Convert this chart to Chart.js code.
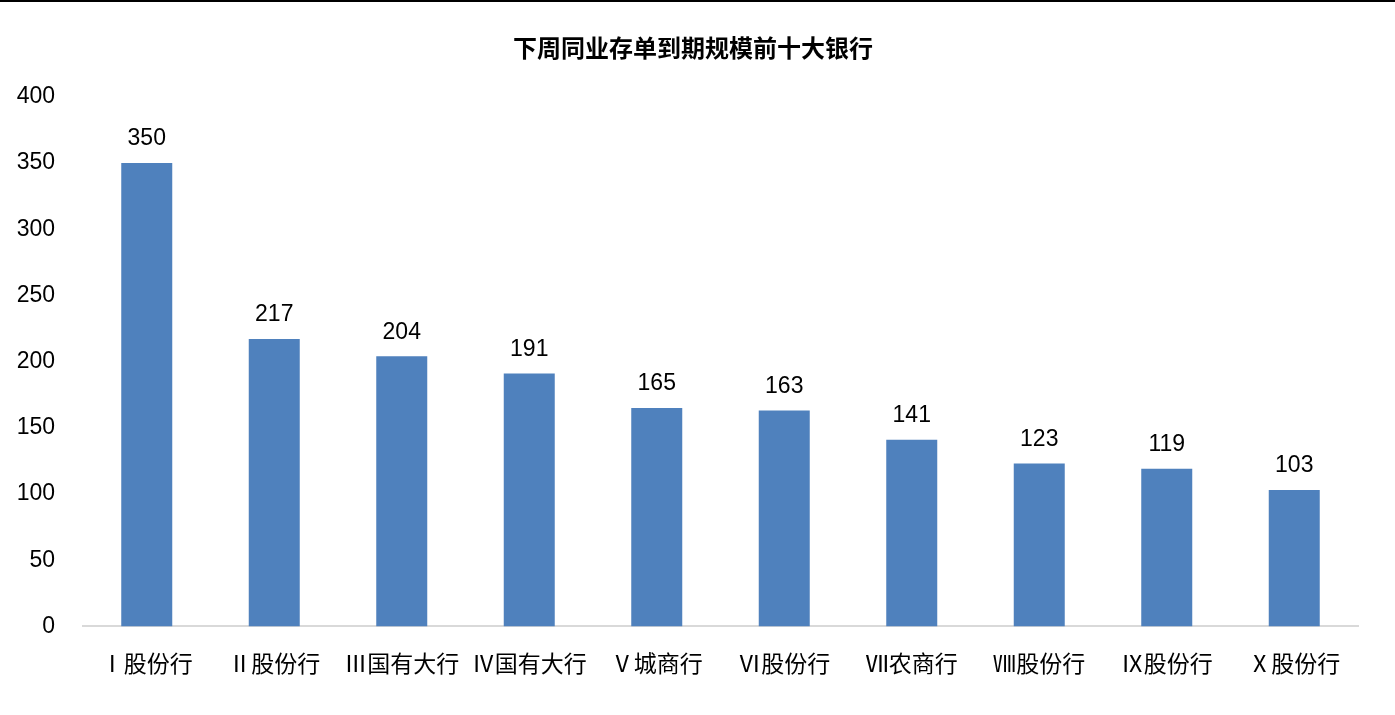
<!DOCTYPE html>
<html>
<head>
<meta charset="utf-8">
<script src="https://cdn.jsdelivr.net/npm/chart.js@4/dist/chart.umd.min.js"></script>
<style>
  html, body { margin: 0; padding: 0; background: #fff; }
  #wrap { position: relative; width: 1395px; height: 715px; }
  #topline { position: absolute; left: 0; top: 0; width: 1395px; height: 2px; background: #000; }
</style>
</head>
<body>
<div id="wrap">
  <canvas id="bankchart" width="1395" height="715"></canvas>
  <div id="topline"></div>
</div>
<script>
// categories and values
var banks = ['Ⅰ股份行', 'Ⅱ股份行', 'Ⅲ国有大行', 'Ⅳ国有大行', 'Ⅴ城商行', 'Ⅵ股份行', 'Ⅶ农商行', 'Ⅷ股份行', 'Ⅸ股份行', 'Ⅹ股份行'];
var amounts = [350, 217, 204, 191, 165, 163, 141, 123, 119, 103];
var yTicks = [0, 50, 100, 150, 200, 250, 300, 350, 400];
var titleText = '下周同业存单到期规模前十大银行';

// draw the value above every bar
var valueLabels = {
    id: 'valueLabels',
    afterDatasetsDraw: function(chart) {
        var ctx = chart.ctx;
        var meta = chart.getDatasetMeta(0);
        ctx.save();
        ctx.font = '23px "Liberation Sans", Arial, sans-serif';
        ctx.fillStyle = '#000';
        ctx.textAlign = 'center';
        ctx.textBaseline = 'middle';
        meta.data.forEach(function(bar, i) {
            ctx.fillText(chart.data.datasets[0].data[i], bar.x, bar.y - 24);
        });
        ctx.restore();
    }
};

var ctx = document.getElementById('bankchart').getContext('2d');
var bankchart = new Chart(ctx, {
    type: 'bar',
    data: {
        labels: banks,
        datasets: [{
            data: amounts,
            yAxisID: 'y',
            backgroundColor: '#4F81BD',
            barPercentage: 0.4,
            categoryPercentage: 1.0
        }]
    },
    options: {
        responsive: false,
        animation: false,
        layout: { padding: { left: 0, right: 9, top: 0, bottom: 15 } },
        plugins: {
            legend: { display: false },
            tooltip: { enabled: false },
            title: {
                display: true,
                text: titleText,
                color: '#000',
                font: { family: '"Noto Sans CJK SC", sans-serif', size: 24, weight: 'bold' },
                padding: { top: 33, bottom: 35 }
            }
        },
        scales: {
            x: {
                grid: { display: false, drawTicks: false },
                border: { display: true, color: '#D9D9D9', width: 2 },
                ticks: {
                    color: '#000',
                    padding: 23,
                    maxRotation: 0,
                    autoSkip: false,
                    font: { family: '"Noto Sans CJK SC", sans-serif', size: 23 }
                }
            },
            y: {
                min: 0,
                max: 400,
                afterBuildTicks: function(scale) {
                    scale.ticks = yTicks.map(function(v) { return { value: v }; });
                },
                afterFit: function(scale) { scale.width = 83; },
                grid: { display: false, drawTicks: false },
                border: { display: false },
                ticks: {
                    color: '#000',
                    padding: 28,
                    font: { family: '"Liberation Sans", Arial, sans-serif', size: 23 }
                }
            },
            // empty right-hand spacer so the title sits where it does in the original
            yr: {
                position: 'right',
                min: 0,
                max: 400,
                afterFit: function(scale) { scale.width = 28; },
                grid: { display: false, drawTicks: false },
                border: { display: false },
                ticks: { display: false }
            }
        }
    },
    plugins: [valueLabels]
});
</script>
</body>
</html>
